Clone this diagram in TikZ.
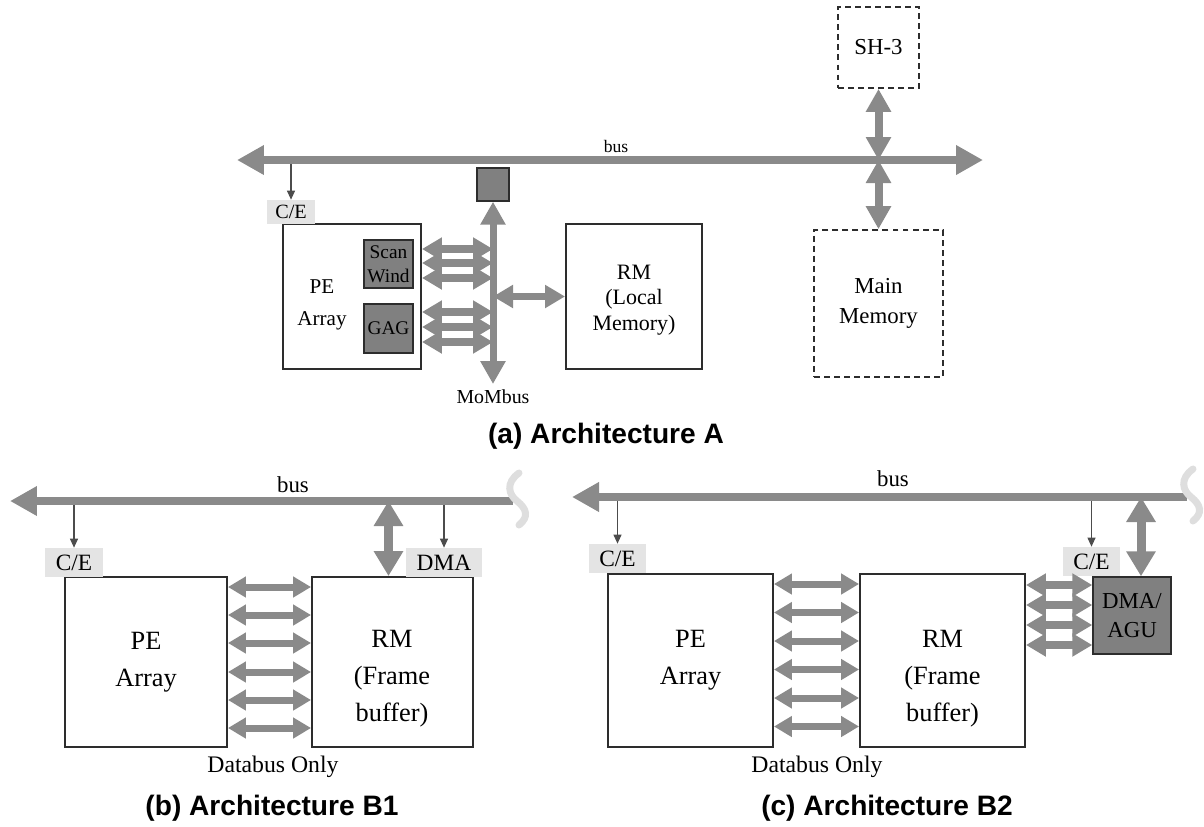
\documentclass[tikz,border=0pt]{standalone}
\usepackage{fontspec}
\setmainfont{Liberation Serif}
\newfontfamily\captionfont{Liberation Sans}
\usetikzlibrary{positioning, calc, arrows.meta}

\definecolor{busgray}{RGB}{138,138,138}
\definecolor{taggray}{RGB}{228,228,228}
\definecolor{blkgray}{RGB}{128,128,128}
\definecolor{brkgray}{RGB}{222,222,222}
\definecolor{edgegray}{RGB}{45,45,45}

\begin{document}
\begin{tikzpicture}[x=0.02cm, y=-0.02cm,
        block/.style={% For the white boxes
            rectangle,
            draw=edgegray,
            line width=1.1pt,
            fill=white,
            inner sep=0pt,
            align=center,
            },
        dblock/.style={% For the dashed boxes
            rectangle,
            draw=edgegray,
            line width=1pt,
            dash pattern=on 3.4pt off 2.3pt,
            inner sep=0pt,
            align=center,
            },
        gblock/.style={% For the gray units
            rectangle,
            draw=edgegray,
            line width=0.8pt,
            fill=blkgray,
            inner sep=0pt,
            align=center,
            },
        tag/.style={% For C/E and DMA
            rectangle,
            fill=taggray,
            inner sep=0pt,
            minimum height=0.58cm,
            font=\rmfamily\fontsize{13.3}{15}\selectfont,
            },
        boxtext/.style={% something bigger for part b and c
            align=center,
            font=\rmfamily\fontsize{15}{21}\selectfont,
            },
        mylabel/.style={%
            font=\rmfamily\fontsize{13.5}{15}\selectfont
            },
        title/.style={%
            font=\captionfont\bfseries\fontsize{16}{18}\selectfont
            },
        BusArrow/.style={% the long buses
            busgray, line width=0.16cm,
            >={Triangle[length=0.54cm,width=0.56cm]},
            },
        VBus/.style={% vertical links to the bus
            busgray, line width=0.18cm, <->,
            >={Triangle[length=0.5cm,width=0.56cm]},
            },
        VBusA/.style={%
            busgray, line width=0.16cm, <->,
            >={Triangle[length=0.46cm,width=0.48cm]},
            },
        DataArrow/.style={%
            busgray, line width=0.14cm, <->,
            >={Triangle[length=0.36cm,width=0.4cm]},
            },
        DataArrowA/.style={%
            busgray, line width=0.15cm, <->,
            >={Triangle[length=0.4cm,width=0.44cm]},
            },
        CtlArrow/.style={% thin control lines
            black!70, line width=0.6pt,
            -{Triangle[length=0.18cm,width=0.16cm]},
            },
        brk/.style={% the break mark at the bus end
            brkgray, line width=0.14cm, line cap=round,
            },
            ]
        \useasboundingbox (0,0) rectangle (1204,826);
        % (a) Architecture A
        \node [dblock, minimum width=1.62cm, minimum height=1.62cm, font=\rmfamily\fontsize{13}{17}\selectfont] (sh3) at (878.5,47.5) {SH-3};
        \node [dblock, minimum width=2.58cm, minimum height=2.94cm, font=\rmfamily\fontsize{13}{17}\selectfont] (mainmem) at (878.5,303.5) {Main\\Memory};
        \node [block, minimum width=2.76cm, minimum height=2.9cm] (peA) at (352,296.5) {};
        \node [align=center, font=\rmfamily\fontsize{12}{18}\selectfont] (peAtxt) at (322,305) {PE\\Array};
        \node [gblock, minimum width=0.98cm, minimum height=0.96cm, font=\rmfamily\fontsize{11}{13.6}\selectfont] (scanw) at (388.5,264) {Scan\\Wind};
        \node [gblock, minimum width=0.98cm, minimum height=0.98cm, font=\rmfamily\fontsize{11}{13}\selectfont] (gag) at (388.5,328.5) {GAG};
        \node [block, minimum width=2.72cm, minimum height=2.9cm] (rmA) at (634,296.5) {};
        \node [align=center, font=\rmfamily\fontsize{12.5}{14.5}\selectfont] (rmAtxt) at (634,300) {RM\\(Local\\Memory)};
        \node [gblock, minimum width=0.64cm, minimum height=0.66cm] (momsq) at (493,184.5) {};
        \node [tag, minimum width=0.96cm, minimum height=0.48cm, font=\rmfamily\fontsize{11.5}{13}\selectfont] (ceA) at (291,212) {C/E};
        \coordinate (busAL) at (237,160);
        \coordinate (busAR) at (983,160);
        \coordinate (momEnd) at (493,384);
        \node [font=\rmfamily\fontsize{10}{12}\selectfont] (busAlbl) at (616,146) {bus};
        \node [font=\rmfamily\fontsize{11.3}{13}\selectfont] (momlbl) at (493,397) {MoMbus};
        \node [title] (titleA) at (606,436) {(a) Architecture A};
        \draw[CtlArrow] (ceA.north |- busAL) -- (ceA.north);
        \draw[BusArrow,<->] (busAL) -- (busAR);
        \draw[VBusA] (sh3.south) -- (sh3.south |- busAL);
        \draw[VBusA] (mainmem.north |- busAL) -- (mainmem.north);
        \draw[VBusA, line width=0.14cm] (momsq.south) -- (momEnd);
        \foreach \y in {249,263,278,312,327,342}
        {\draw[DataArrowA] (peA.east |- 0,\y) -- (momEnd |- 0,\y);}
        \draw[DataArrowA] (momEnd |- rmA.west) -- (rmA.west);

        % (b) Architecture B1
        \node [block, boxtext, minimum width=3.24cm, minimum height=3.4cm] (peB) at (146,662) {PE\\Array};
        \node [block, minimum width=3.22cm, minimum height=3.4cm] (rmB) at (392.5,662) {};
        \node [boxtext] (rmBtxt) at (392,679) {RM\\(Frame\\buffer)};
        \node [tag, minimum width=1.16cm] (ceB) at (74,562.5) {C/E};
        \node [tag, minimum width=1.52cm] (dmaB) at (444,562.5) {DMA};
        \coordinate (busBL) at (10,501);
        \coordinate (busBR) at (513,501);
        \coordinate (rmBtap) at ($(rmB.north)+(-4,0)$);
        \node [font=\rmfamily\fontsize{13}{15}\selectfont] (busBlbl) at (293,485) {bus};
        \node [mylabel] (dbB) at (273,767) {Databus Only};
        \node [title] (titleB) at (272,808) {(b) Architecture B1};
        \draw[CtlArrow] (ceB.north |- busBL) -- (ceB.north);
        \draw[CtlArrow] (dmaB.north |- busBL) -- (dmaB.north);
        \draw[BusArrow,<-] (busBL) -- (busBR);
        \draw[brk, shift={(busBR)}] (6,-28) .. controls (-8,-18) and (-4,-6) .. (4,0)
            .. controls (14,8) and (16,16) .. (6,24);
        \draw[VBus] (rmBtap |- busBL) -- (rmBtap);
        \foreach \y in {587,615,643,672,700,728}
        {\draw[DataArrow] (peB.east |- 0,\y) -- (rmB.west |- 0,\y);}

        % (c) Architecture B2
        \node [block, boxtext, minimum width=3.3cm, minimum height=3.46cm] (peC) at (690.5,660.5) {PE\\Array};
        \node [block, minimum width=3.3cm, minimum height=3.46cm] (rmC) at (942.5,660.5) {};
        \node [boxtext] (rmCtxt) at (942.5,679) {RM\\(Frame\\buffer)};
        \node [gblock, minimum width=1.56cm, minimum height=1.54cm, font=\rmfamily\fontsize{13}{16.4}\selectfont] (dmaC) at (1132,615.5) {DMA/\\AGU};
        \node [tag, minimum width=1.14cm] (ceC) at (617.5,558.5) {C/E};
        \node [tag, minimum width=1.14cm] (ceC2) at (1091.5,561.5) {C/E};
        \coordinate (busCL) at (572,497);
        \coordinate (busCR) at (1187,497);
        \coordinate (dmaCtap) at ($(dmaC.north)+(9,0)$);
        \node [font=\rmfamily\fontsize{13}{15}\selectfont] (busClbl) at (893,479) {bus};
        \node [mylabel] (dbC) at (817,767) {Databus Only};
        \node [title] (titleC) at (887,808) {(c) Architecture B2};
        \draw[CtlArrow] (ceC.north |- busCL) -- (ceC.north);
        \draw[CtlArrow] (ceC2.north |- busCL) -- (ceC2.north);
        \draw[BusArrow,<-] (busCL) -- (busCR);
        \draw[brk, shift={(busCR)}] (6,-28) .. controls (-8,-18) and (-4,-6) .. (4,0)
            .. controls (14,8) and (16,16) .. (6,24);
        \draw[VBus] (dmaCtap |- busCL) -- (dmaCtap);
        \foreach \y in {584,612.5,641,669.5,698,726.5}
        {\draw[DataArrow] (peC.east |- 0,\y) -- (rmC.west |- 0,\y);}
        \foreach \y in {585,605,625,645}
        {\draw[DataArrowA] (rmC.east |- 0,\y) -- (dmaC.west |- 0,\y);}
\end{tikzpicture}
\end{document}
